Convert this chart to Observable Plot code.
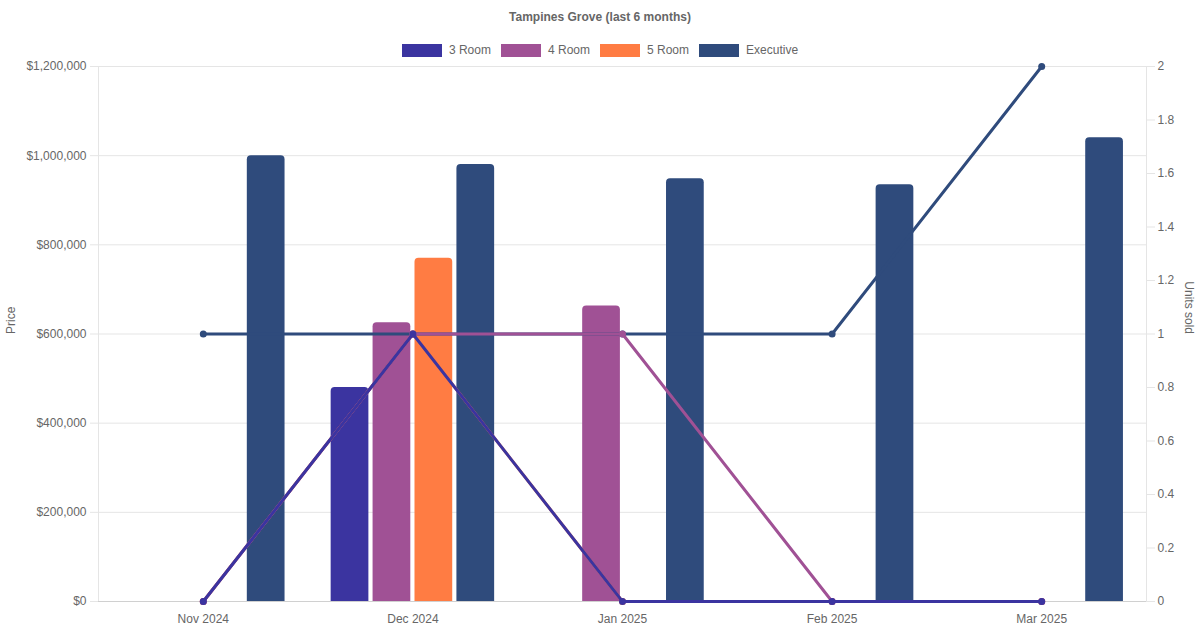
<!DOCTYPE html>
<html>
<head>
<meta charset="utf-8">
<script src="https://cdn.jsdelivr.net/npm/d3@7"></script>
<script src="https://cdn.jsdelivr.net/npm/@observablehq/plot@0.6"></script>
<style>
  html, body { margin: 0; padding: 0; background: #fff; }
  body { width: 1200px; height: 630px; overflow: hidden; font-family: "Liberation Sans", Arial, Helvetica, sans-serif; color: #666; }
  #header { height: 60px; position: relative; }
  #title { position: absolute; top: 10px; left: 0; width: 1200px; text-align: center; font-weight: bold; font-size: 12px; color: #666; }
  #legend { position: absolute; top: 43px; left: 0; width: 1200px; display: flex; justify-content: center; font-size: 12px; color: #666; }
  .item { display: flex; align-items: center; margin: 0 5px; }
  .sw { width: 40px; height: 13px; margin-right: 7px; }
  #chart svg { display: block; }
</style>
</head>
<body>
<div id="header">
  <div id="title"></div>
  <div id="legend"></div>
</div>
<div id="chart"></div>
<script>
const titleText = "Tampines Grove (last 6 months)";
const months = ["Nov 2024", "Dec 2024", "Jan 2025", "Feb 2025", "Mar 2025"];
const series = ["3 Room", "4 Room", "5 Room", "Executive"];
const colors = ["#3b34a0", "#a05195", "#ff7c43", "#2f4b7c"];

// Average price per month (null = no sale)
const price3Room = [null, 480000, null, null, null];
const price4Room = [null, 625000, 663000, null, null];
const price5Room = [null, 770000, null, null, null];
const priceExec  = [1000000, 980000, 948000, 935000, 1040000];

// Units sold per month
const units3Room = [0, 1, 0, 0, 0];
const units4Room = [0, 1, 1, 0, 0];
const units5Room = [0, 1, 0, 0, 0];
const unitsExec  = [1, 1, 1, 1, 2];

const priceTicks = [0, 200000, 400000, 600000, 800000, 1000000, 1200000];
const unitTicks = [0, 0.2, 0.4, 0.6, 0.8, 1, 1.2, 1.4, 1.6, 1.8, 2];

const priceMax = 1200000, unitsMax = 2;
const ratio = priceMax / unitsMax;

const prices = [price3Room, price4Room, price5Room, priceExec];
const units = [units3Room, units4Room, units5Room, unitsExec];

document.getElementById("title").textContent = titleText;
const legend = document.getElementById("legend");
series.forEach((s, i) => {
  const it = document.createElement("div");
  it.className = "item";
  const sw = document.createElement("div");
  sw.className = "sw";
  sw.style.background = colors[i];
  const tx = document.createElement("span");
  tx.textContent = s;
  it.appendChild(sw); it.appendChild(tx);
  legend.appendChild(it);
});

const W = 1200, H = 570;
const mL = 98, mR = 54, mT = 6, mB = 29;
const bw = (W - mL - mR) / months.length;
const groupW = bw * 0.8, slot = groupW / series.length, barW = slot * 0.9;

const barMarks = series.map((s, k) => {
  const rows = months.map((m, i) => ({month: m, price: prices[k][i]})).filter(d => d.price != null);
  const off = (k - (series.length - 1) / 2) * slot;
  const side = (bw - barW) / 2;
  return Plot.barY(rows, {x: "month", y: "price", fill: colors[k], insetLeft: side + off, insetRight: side - off, ry1: 4});
});

const lineMarks = [];
[3, 2, 1, 0].forEach(k => {
  const rows = months.map((m, i) => ({month: m, u: units[k][i] * ratio}));
  lineMarks.push(Plot.line(rows, {x: "month", y: "u", stroke: colors[k], strokeWidth: 3}));
  lineMarks.push(Plot.dot(rows, {x: "month", y: "u", fill: colors[k], r: 3.5}));
});

const chart = Plot.plot({
  width: W, height: H,
  marginLeft: mL, marginRight: mR, marginTop: mT, marginBottom: mB,
  style: {fontFamily: "'Liberation Sans', Arial, sans-serif", fontSize: "12px", color: "#666", background: "#fff"},
  x: {type: "band", domain: months, padding: 0, round: false, label: null},
  y: {domain: [0, priceMax], label: null},
  marks: [
    Plot.gridY(priceTicks, {stroke: "#e5e5e5", strokeOpacity: 1}),
    Plot.frame({stroke: "#e5e5e5"}),
    Plot.ruleY([0], {stroke: "#d0d0d0"}),
    ...barMarks,
    ...lineMarks,
    Plot.axisX({tickSize: 0, tickPadding: 13, fill: "#666", fontSize: 12}),
    Plot.axisY(priceTicks, {tickSize: 8, tickFormat: () => "", stroke: "#e5e5e5"}),
    Plot.axisY(priceTicks, {tickSize: 0, tickPadding: 12, tickFormat: d3.format("$,"), fill: "#666", fontSize: 12}),
    Plot.axisY(unitTicks.map(u => u * ratio), {anchor: "right", tickSize: 8, tickFormat: () => "", stroke: "#e5e5e5"}),
    Plot.axisY(unitTicks.map(u => u * ratio), {anchor: "right", tickSize: 0, tickPadding: 11, tickFormat: d => String(+(d / ratio).toFixed(2)), fill: "#666", fontSize: 12}),
    Plot.text(["Price"], {frameAnchor: "left", dx: -87, rotate: -90, fill: "#666", fontSize: 12}),
    Plot.text(["Units sold"], {frameAnchor: "right", dx: 42, rotate: 90, fill: "#666", fontSize: 12})
  ]
});
document.getElementById("chart").appendChild(chart);
</script>
</body>
</html>
